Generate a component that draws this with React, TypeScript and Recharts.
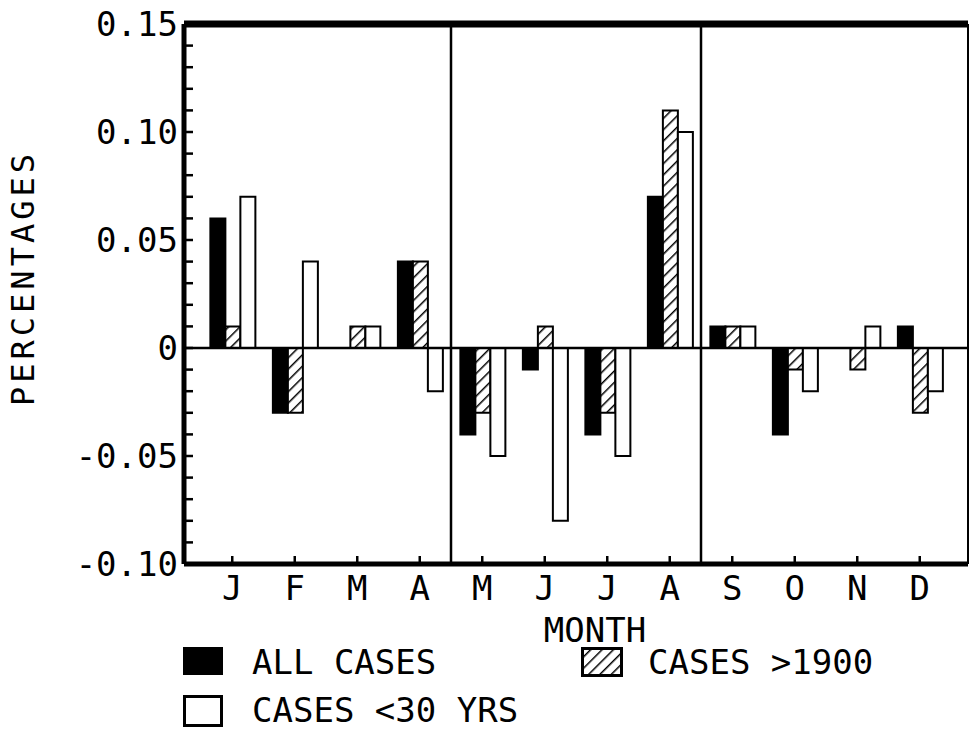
import React from "react";
import { Bar, BarChart, ReferenceLine, XAxis, YAxis } from "recharts";

const months = ["JAN", "FEB", "MAR", "APR", "MAY", "JUN", "JUL", "AUG", "SEP", "OCT", "NOV", "DEC"];
const monthLabels = ["J", "F", "M", "A", "M", "J", "J", "A", "S", "O", "N", "D"];

const allCases = [0.06, -0.03, 0, 0.04, -0.04, -0.01, -0.04, 0.07, 0.01, -0.04, 0, 0.01];
const cases1900 = [0.01, -0.03, 0.01, 0.04, -0.03, 0.01, -0.03, 0.11, 0.01, -0.01, -0.01, -0.03];
const casesUnder30 = [0.07, 0.04, 0.01, -0.02, -0.05, -0.08, -0.05, 0.1, 0.01, -0.02, 0.01, -0.02];

// minor ticks every 0.01, labels only on the 0.05 steps
const yTicks = [
  -0.1, -0.09, -0.08, -0.07, -0.06, -0.05, -0.04, -0.03, -0.02, -0.01, 0, 0.01, 0.02,
  0.03, 0.04, 0.05, 0.06, 0.07, 0.08, 0.09, 0.1, 0.11, 0.12, 0.13, 0.14, 0.15,
];
const yLabelTicks = ["-0.10", "-0.05", "0", "0.05", "0.10", "0.15"];

// lines splitting the year into thirds
const dividerMonths = ["MAY", "SEP"];

const data = months.map((m, i) => ({
  month: m,
  all: allCases[i],
  old: cases1900[i],
  young: casesUnder30[i],
}));

const FONT = "'DejaVu Sans Mono', monospace";
const TICK_MARGIN = 6;

function fmt(v: number) {
  const r = Math.round(v * 100) / 100;
  return r === 0 ? "0" : r.toFixed(2);
}

function YTick(props: any) {
  const { x, y, payload } = props;
  const axisX = x + TICK_MARGIN;
  const label = fmt(payload.value);
  return (
    <g>
      <line x1={axisX} x2={axisX + 9} y1={y} y2={y} stroke="#000" strokeWidth={2.5} />
      {yLabelTicks.includes(label) && (
        <text x={x} y={y + 12} textAnchor="end" fontFamily={FONT} fontSize={34} fill="#000">
          {label}
        </text>
      )}
    </g>
  );
}

function XTick(props: any) {
  const { x, y, payload } = props;
  return (
    <g>
      <line x1={x} x2={x} y1={y} y2={y - 8} stroke="#000" strokeWidth={2.5} />
      <text x={x} y={y + 36} textAnchor="middle" fontFamily={FONT} fontSize={34} fill="#000">
        {monthLabels[payload.index]}
      </text>
    </g>
  );
}

function HatchSwatch() {
  return (
    <svg width={42} height={30}>
      <defs>
        <pattern id="hatchLegend" patternUnits="userSpaceOnUse" width="8" height="8" patternTransform="rotate(45)">
          <rect width="8" height="8" fill="#fff" />
          <line x1="0" y1="0" x2="0" y2="8" stroke="#000" strokeWidth="3" />
        </pattern>
      </defs>
      <rect x={1.5} y={1.5} width={39} height={27} fill="url(#hatchLegend)" stroke="#000" strokeWidth={3} />
    </svg>
  );
}

const legendText: React.CSSProperties = {
  position: "absolute",
  fontFamily: FONT,
  fontSize: 34,
  lineHeight: "34px",
  color: "#000",
  whiteSpace: "nowrap",
};

export default function App() {
  return (
    <div style={{ position: "absolute", left: 0, top: 0, width: 975, height: 732, background: "#fff" }}>
      <BarChart
        width={975}
        height={732}
        data={data}
        margin={{ top: 23, right: 6, bottom: 88, left: 0 }}
        barCategoryGap="15%"
        barGap={0}
      >
        <defs>
          <pattern id="hatch" patternUnits="userSpaceOnUse" width="8" height="8" patternTransform="rotate(45)">
            <rect width="8" height="8" fill="#fff" />
            <line x1="0" y1="0" x2="0" y2="8" stroke="#000" strokeWidth="3" />
          </pattern>
        </defs>
        <XAxis
          dataKey="month"
          interval={0}
          padding={{ left: 17, right: 17 }}
          tickSize={0}
          tickMargin={0}
          height={80}
          axisLine={{ stroke: "#000", strokeWidth: 5 }}
          tick={<XTick />}
          label={{
            content: (p: any) => {
              const vb = p.viewBox || { x: 184, y: 564, width: 784, height: 80 };
              return (
                <text
                  x={vb.x + vb.width / 2 + 19}
                  y={vb.y + 78}
                  textAnchor="middle"
                  fontFamily={FONT}
                  fontSize={34}
                  fill="#000"
                >
                  MONTH
                </text>
              );
            },
          }}
        />
        <XAxis
          xAxisId="top"
          dataKey="month"
          orientation="top"
          height={1}
          tick={false}
          tickLine={false}
          axisLine={{ stroke: "#000", strokeWidth: 7 }}
        />
        <YAxis
          type="number"
          domain={[-0.1, 0.15]}
          ticks={yTicks}
          interval={0}
          allowDataOverflow
          width={184}
          tickSize={0}
          tickMargin={TICK_MARGIN}
          axisLine={{ stroke: "#000", strokeWidth: 5 }}
          tick={<YTick />}
          label={{
            content: (p: any) => {
              const vb = p.viewBox || { x: 0, y: 24, width: 184, height: 540 };
              const cx = vb.x + 23;
              const cy = vb.y + vb.height / 2 - 16;
              return (
                <text
                  x={cx}
                  y={cy}
                  transform={`rotate(-90, ${cx}, ${cy})`}
                  textAnchor="middle"
                  dominantBaseline="central"
                  fontFamily={FONT}
                  fontSize={32}
                  letterSpacing={4}
                  fill="#000"
                >
                  PERCENTAGES
                </text>
              );
            },
          }}
        />
        <YAxis
          yAxisId="right"
          orientation="right"
          width={1}
          tick={false}
          tickLine={false}
          axisLine={{ stroke: "#000", strokeWidth: 2 }}
        />
        <ReferenceLine y={0} stroke="#000" strokeWidth={2.5} />
        {dividerMonths.map((m) => (
          <ReferenceLine key={m} x={m} position="start" stroke="#000" strokeWidth={2.5} />
        ))}
        <Bar dataKey="all" fill="#000" stroke="#000" strokeWidth={2} isAnimationActive={false} />
        <Bar dataKey="old" fill="url(#hatch)" stroke="#000" strokeWidth={2} isAnimationActive={false} />
        <Bar dataKey="young" fill="#fff" stroke="#000" strokeWidth={2} isAnimationActive={false} />
      </BarChart>

      <div style={{ position: "absolute", left: 183, top: 647, width: 40, height: 28, background: "#000" }} />
      <div style={{ ...legendText, left: 252, top: 645 }}>ALL CASES</div>
      <div style={{ position: "absolute", left: 581, top: 647 }}>
        <HatchSwatch />
      </div>
      <div style={{ ...legendText, left: 648, top: 645 }}>CASES &gt;1900</div>
      <div
        style={{
          position: "absolute",
          left: 183,
          top: 695,
          width: 40,
          height: 32,
          boxSizing: "border-box",
          border: "3px solid #000",
          background: "#fff",
        }}
      />
      <div style={{ ...legendText, left: 252, top: 693 }}>CASES &lt;30 YRS</div>
    </div>
  );
}
